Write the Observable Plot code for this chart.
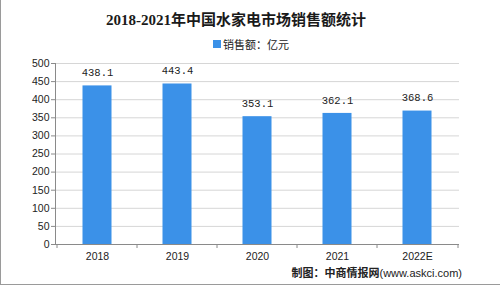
<!DOCTYPE html>
<html>
<head>
<meta charset="utf-8">
<script src="https://cdn.jsdelivr.net/npm/d3@7"></script>
<script src="https://cdn.jsdelivr.net/npm/@observablehq/plot@0.6"></script>
<style>
  html, body { margin: 0; padding: 0; background: #fff; }
  #wrap { position: relative; width: 500px; height: 285px; overflow: hidden; background: #fff;
          border-left: 1px solid #9a9a9a; border-bottom: 1px solid #9a9a9a; box-sizing: border-box; }
  #chart { position: absolute; left: -1px; top: 0; }
  .t { position: absolute; white-space: nowrap; color: #222; }
  #title { left: 0; width: 470px; top: 8px; text-align: center; font: bold 15px "Liberation Serif", "Noto Sans CJK SC", serif; color: #1a1a1a; }
  #legend { left: 212px; top: 36px; font: 11px "Noto Sans CJK SC", sans-serif; display: flex; align-items: center; }
  #legend .sw { width: 8px; height: 8px; background: #3b91e8; margin-right: 2px; }
  #caption { right: 38px; top: 264px; font: 11px "Noto Sans CJK SC", sans-serif; color: #222; }
  #caption b { font-weight: bold; }
  #caption span { font-family: "Liberation Sans", sans-serif; font-size: 11px; }
</style>
</head>
<body>
<div id="wrap">
  <div id="chart"></div>
  <div class="t" id="title">2018-2021年中国水家电市场销售额统计</div>
  <div class="t" id="legend"><div class="sw"></div>销售额：亿元</div>
  <div class="t" id="caption"><b>制图：中商情报网</b><span>(www.askci.com)</span></div>
</div>
<script>
const years = ["2018", "2019", "2020", "2021", "2022E"];
const sales = [438.1, 443.4, 353.1, 362.1, 368.6];
const yTicks = [0, 50, 100, 150, 200, 250, 300, 350, 400, 450, 500];

const data = years.map((y, i) => ({year: y, value: sales[i]}));

const plot = Plot.plot({
  width: 500,
  height: 285,
  marginLeft: 55,
  marginRight: 41,
  marginTop: 63,
  marginBottom: 41,
  style: {background: "transparent", color: "#222"},
  x: {domain: years, padding: 0, label: null},
  y: {domain: [0, 500], label: null},
  marks: [
    Plot.ruleY(yTicks.slice(1), {stroke: "#d6d6d6", strokeWidth: 1}),
    Plot.barY(data, {x: "year", y: "value", fill: "#3b91e8", insetLeft: 25.5, insetRight: 25.5}),
    Plot.text(data, {x: "year", y: "value", text: d => d.value.toFixed(1), dy: -13, fontSize: 10.5, fontFamily: "Liberation Mono, monospace", fill: "#222"}),
    Plot.ruleY([0], {stroke: "#8a8a8a"}),
    Plot.frame({anchor: "left", stroke: "#8a8a8a"}),
    Plot.ruleX(years, {x: d => d, y1: 0, y2: 0, dx: -40.5, insetBottom: -4, stroke: "#8a8a8a"}),
    Plot.ruleX(years.slice(-1), {x: d => d, y1: 0, y2: 0, dx: 40.5, insetBottom: -4, stroke: "#8a8a8a"}),
    Plot.axisY({ticks: yTicks, tickSize: 4, tickPadding: 2, fontSize: 10.5, fontFamily: "Liberation Sans, Arial, sans-serif", stroke: "#8a8a8a", fill: "#222"}),
    Plot.axisX({tickSize: 0, tickPadding: 8, fontSize: 10.5, fontFamily: "Liberation Sans, Arial, sans-serif", fill: "#222"})
  ]
});
document.getElementById("chart").appendChild(plot);
</script>
</body>
</html>
